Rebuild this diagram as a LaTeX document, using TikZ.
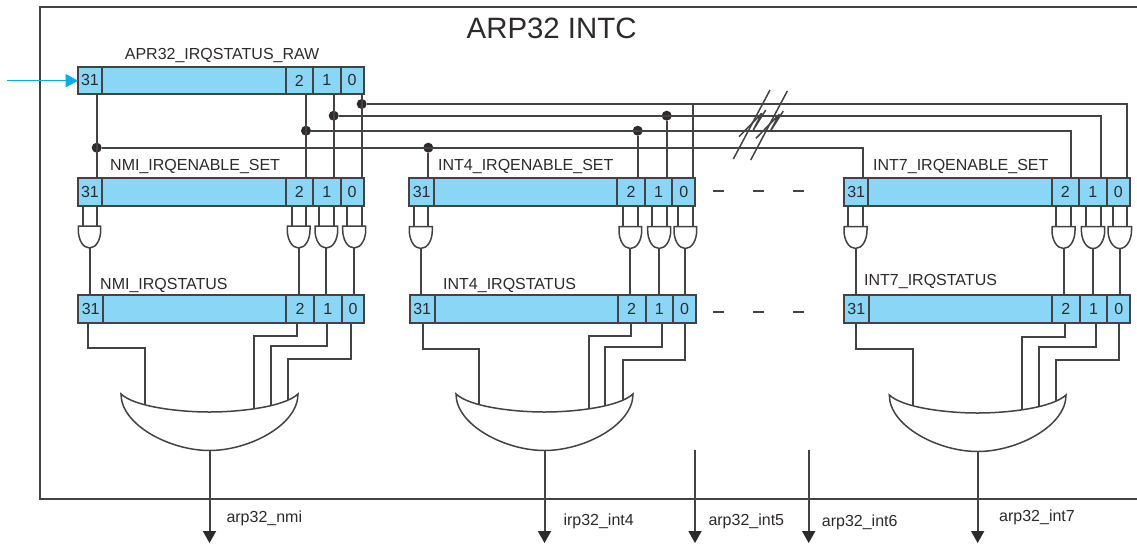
\documentclass[tikz,border=0pt]{standalone}
\usepackage{fontspec}
\setmainfont{Liberation Sans}
\usetikzlibrary{calc,arrows.meta}
\definecolor{ink}{HTML}{2E2A2B}
\definecolor{wireink}{HTML}{454243}
\definecolor{regblue}{HTML}{8AD6F7}
\definecolor{inblue}{HTML}{00AEEF}
\tikzset{
  wire/.style={draw=wireink,line width=2pt},
  outwire/.style={wire,-{Triangle[length=12pt,width=13.5pt,color=ink,fill=ink,line width=0pt]}},
  cell/.style={draw=wireink,line width=2pt,fill=regblue,inner sep=0pt,outer sep=0pt,anchor=north west,minimum height=27.5pt,text=ink,font=\fontsize{16}{18}\selectfont},
  lbl/.style={inner sep=0pt,anchor=base west,text=ink,font=\fontsize{16}{18}\selectfont},
  dotj/.style={circle,fill=ink,inner sep=0pt,minimum size=10pt},
  ghost/.style={inner sep=0pt,outer sep=0pt,anchor=north},
  brk/.style={draw=wireink,line width=1.5pt,line join=bevel},
  dashmark/.style={draw=wireink,line width=2pt}
}
\newcommand\regcells[8]{%
  \node[cell,minimum width={(#3-#2)*1pt}] (#131) at (#2,#8) {31};
  \node[cell,minimum width={(#4-#3)*1pt}] (#1m) at (#3,#8) {};
  \node[cell,minimum width={(#5-#4)*1pt}] (#12) at (#4,#8) {2};
  \node[cell,minimum width={(#6-#5)*1pt}] (#11) at (#5,#8) {1};
  \node[cell,minimum width={(#7-#6)*1pt}] (#10) at (#6,#8) {0};
}
% and gate: name, xl, xr, input a, input b, top
\newcommand\andg[6]{%
  \node[ghost,minimum width={(#3-#2)*1pt},minimum height=22pt] (#1) at ({(#2+#3)/2},#6) {};
  \coordinate (#1-a) at (#4,#6);
  \coordinate (#1-b) at (#5,#6);
  \draw[wire,line width=1.5pt,fill=white] (#1.north west) -- (#1.north east) -- ++(0,4)
    .. controls +(0,9) and +(7,0) .. (#1.south)
    .. controls +(-7,0) and +(0,9) .. ($(#1.north west)+(0,-4pt)$) -- cycle;
}
% wires around an and gate: enable cell, gate, status cell
\newcommand\gwires[3]{%
  \draw[wire] (#1.south -| #2-a) -- (#2-a);
  \draw[wire] (#1.south -| #2-b) -- (#2-b);
  \draw[wire] (#2.south) -- (#2.south |- #3.north);
}
% or gate: name, xl, xr, top
\newcommand\org[4]{%
  \node[ghost,minimum width={(#3-#2)*1pt},minimum height=56.5pt] (#1) at ({(#2+#3)/2},#4) {};
  \draw[wire,line width=1.5pt,fill=white,line join=miter] (#1.north west)
    .. controls +(14,13) and +(-30,0) .. ($(#1.north)+(0,-18pt)$)
    .. controls +(30,0) and +(-14,13) .. (#1.north east)
    .. controls +(0,31) and +(39.7,0) .. (#1.south)
    .. controls +(-39.7,0) and +(0,31) .. (#1.north west) -- cycle;
}
% status-to-or wire: cell, x out, y bend, pin name, x in, y in
\newcommand\orwire[6]{%
  \coordinate (#4) at (#5,#6);
  \coordinate (#4b) at (#2,#3);
  \draw[wire] (#1.south -| #4b) -- (#4b) -- (#4b -| #4) -- (#4);
}
\begin{document}
\begin{tikzpicture}[x=1pt,y=-1pt]
\path[fill=white,use as bounding box] (0,0) rectangle (1137,544);
% frame
\coordinate (fa) at (1137,7);
\coordinate (fb) at (39.5,7);
\coordinate (fc) at (39.5,498.7);
\coordinate (fd) at (1137,498.7);
\draw[wire] (fa) -- (fb) -- (fc) -- (fd);
\node[lbl,font=\fontsize{29.4}{32}\selectfont] (title) at (466.5,38.3) {ARP32 INTC};

% registers
\regcells{raw}{78}{102}{285.5}{313}{340.5}{363.5}{66.7}
\regcells{nE}{78}{102}{285.5}{313}{340.5}{363.5}{178.3}
\regcells{nS}{78.3}{103}{286}{314}{341.7}{364.3}{295}
\regcells{fE}{409.3}{434}{617.3}{645}{672.3}{695.3}{178.3}
\regcells{fS}{409.7}{434.7}{617.7}{645.5}{673}{696}{295}
\regcells{sE}{844}{868.3}{1051.5}{1079}{1106.5}{1130.3}{178.3}
\regcells{sS}{844}{868.7}{1052}{1079.7}{1107.3}{1130.3}{295}

\node[lbl] (lraw) at (124.7,59.3) {APR32\_IRQSTATUS\_RAW};
\node[lbl] (lnE) at (110,170) {NMI\_IRQENABLE\_SET};
\node[lbl] (lnS) at (100,289.3) {NMI\_IRQSTATUS};
\node[lbl] (lfE) at (438,170) {INT4\_IRQENABLE\_SET};
\node[lbl] (lfS) at (443,289) {INT4\_IRQSTATUS};
\node[lbl] (lsE) at (873,170) {INT7\_IRQENABLE\_SET};
\node[lbl] (lsS) at (864,285.7) {INT7\_IRQSTATUS};

% input arrow
\coordinate (inp) at (7.3,80.7);
\draw[draw=inblue,line width=1pt,-{Triangle[length=12.5pt,width=13.5pt,fill=inblue]}] (inp) -- (inp -| raw31.west);

% bus junctions
\node[dotj] (j31) at (96.7,147.7) {};
\node[dotj] (j2) at (306,130.7) {};
\node[dotj] (j1) at (333.7,115.7) {};
\node[dotj] (j0) at (361.7,104) {};
\node[dotj] (k31) at (428.3,147.7) {};
\node[dotj] (k2) at (637.7,130.7) {};
\node[dotj] (k1) at (666.7,115.7) {};
\coordinate (k0) at (692.7,104);
\coordinate (m31) at (863,147.7);
\coordinate (m2) at (1071,130.7);
\coordinate (m1) at (1100.5,115.7);
\coordinate (m0) at (1127,104);

% raw to NMI enable
\draw[wire] (raw31.south -| j31) -- (nE31.north -| j31);
\draw[wire] (raw2.south -| j2) -- (nE2.north -| j2);
\draw[wire] (raw1.south -| j1) -- (nE1.north -| j1);
\draw[wire] (raw0.south -| j0) -- (nE0.north -| j0);
% buses
\draw[wire] (j31) -- (m31) -- (sE31.north -| m31);
\draw[wire] (j2) -- (m2) -- (sE2.north -| m2);
\draw[wire] (j1) -- (m1) -- (sE1.north -| m1);
\draw[wire] (j0) -- (m0) -- (sE0.north -| m0);
\draw[wire] (k31) -- (fE31.north -| k31);
\draw[wire] (k2) -- (fE2.north -| k2);
\draw[wire] (k1) -- (fE1.north -| k1);
\draw[wire] (k0) -- (fE0.north -| k0);

% break marks
\coordinate (s1a) at (733.3,159); \coordinate (s1b) at (770,90);
\coordinate (s2a) at (750.7,160); \coordinate (s2b) at (787.3,91);
\coordinate (z1a) at (739,136.7); \coordinate (z1b) at (761.7,113.3); \coordinate (z1c) at (753.3,130); \coordinate (z1d) at (765.7,110);
\coordinate (z2a) at (756,138.3); \coordinate (z2b) at (779.3,114.3); \coordinate (z2c) at (770,131.7); \coordinate (z2d) at (783.3,111);
\draw[brk] (s1a) -- (s1b);
\draw[brk] (s2a) -- (s2b);
\draw[brk] (z1a) -- (z1b) -- (z1c) -- (z1d);
\draw[brk] (z2a) -- (z2b) -- (z2c) -- (z2d);

% dashes between registers
\foreach \xa/\xb in {713/724,753/764,793/804}{
  \coordinate (da) at (\xa,191); \coordinate (db) at (\xb,191);
  \draw[dashmark] (da) -- (db);
  \coordinate (da) at (\xa,311.5); \coordinate (db) at (\xb,311.5);
  \draw[dashmark] (da) -- (db);
}

% and gates
\andg{ng31}{78.3}{100.7}{82.7}{96.7}{226}
\andg{ng2}{287.3}{310}{291.7}{306}{226}
\andg{ng1}{315}{337.7}{319.3}{333.7}{226}
\andg{ng0}{342.7}{365.7}{347}{361.7}{226}
\andg{fg31}{409.3}{432.3}{414}{428.3}{226.5}
\andg{fg2}{619}{641.7}{623}{637.7}{226.5}
\andg{fg1}{647.7}{670.7}{652}{666.7}{226.5}
\andg{fg0}{674}{696.7}{678.3}{692.7}{226.5}
\andg{sg31}{844}{867}{848}{863}{226.5}
\andg{sg2}{1052}{1075}{1056.4}{1071}{226.5}
\andg{sg1}{1081.4}{1104.7}{1085.8}{1100.5}{226.5}
\andg{sg0}{1108}{1131.5}{1112.9}{1127}{226.5}

\gwires{nE31}{ng31}{nS31}
\gwires{nE2}{ng2}{nS2}
\gwires{nE1}{ng1}{nS1}
\gwires{nE0}{ng0}{nS0}
\gwires{fE31}{fg31}{fS31}
\gwires{fE2}{fg2}{fS2}
\gwires{fE1}{fg1}{fS1}
\gwires{fE0}{fg0}{fS0}
\gwires{sE31}{sg31}{sS31}
\gwires{sE2}{sg2}{sS2}
\gwires{sE1}{sg1}{sS1}
\gwires{sE0}{sg0}{sS0}

% status to or wires
\orwire{nS31}{88}{348}{np31}{144.7}{405.7}
\orwire{nS2}{297}{336}{np2}{253.7}{409}
\orwire{nS1}{327.3}{346.3}{np1}{270.7}{406.7}
\orwire{nS0}{350.7}{358.7}{np0}{288}{401.7}
\orwire{fS31}{422.7}{349}{fp31}{479.3}{405.7}
\orwire{fS2}{631.3}{336.3}{fp2}{588.7}{409}
\orwire{fS1}{661.7}{347}{fp1}{605}{406.7}
\orwire{fS0}{685.3}{359.7}{fp0}{622.7}{401.7}
\orwire{sS31}{856}{349}{sp31}{913}{407}
\orwire{sS2}{1065}{337.3}{sp2}{1022}{410.5}
\orwire{sS1}{1095.7}{347.3}{sp1}{1038.7}{408}
\orwire{sS0}{1119}{359.7}{sp0}{1056.3}{403}

% or gates
\org{nOr}{121}{298}{394}
\org{fOr}{456}{633}{394}
\org{sOr}{889.3}{1066}{395}

% outputs
\coordinate (onmi) at (209.7,543);
\coordinate (oint4) at (544.5,543);
\coordinate (oint7) at (977.7,543);
\coordinate (s5) at (695,450); \coordinate (oint5) at (695,543);
\coordinate (s6) at (808.7,450); \coordinate (oint6) at (808.7,543);
\draw[outwire] (nOr.south) -- (nOr.south |- onmi);
\draw[outwire] (fOr.south) -- (fOr.south |- oint4);
\draw[outwire] (sOr.south) -- (sOr.south |- oint7);
\draw[outwire] (s5) -- (oint5);
\draw[outwire] (s6) -- (oint6);
\node[lbl] (tnmi) at (226.3,522) {arp32\_nmi};
\node[lbl] (tint4) at (563.3,525) {irp32\_int4};
\node[lbl] (tint5) at (708.3,525) {arp32\_int5};
\node[lbl] (tint6) at (821.7,526) {arp32\_int6};
\node[lbl] (tint7) at (999,521.7) {arp32\_int7};
\end{tikzpicture}
\end{document}
